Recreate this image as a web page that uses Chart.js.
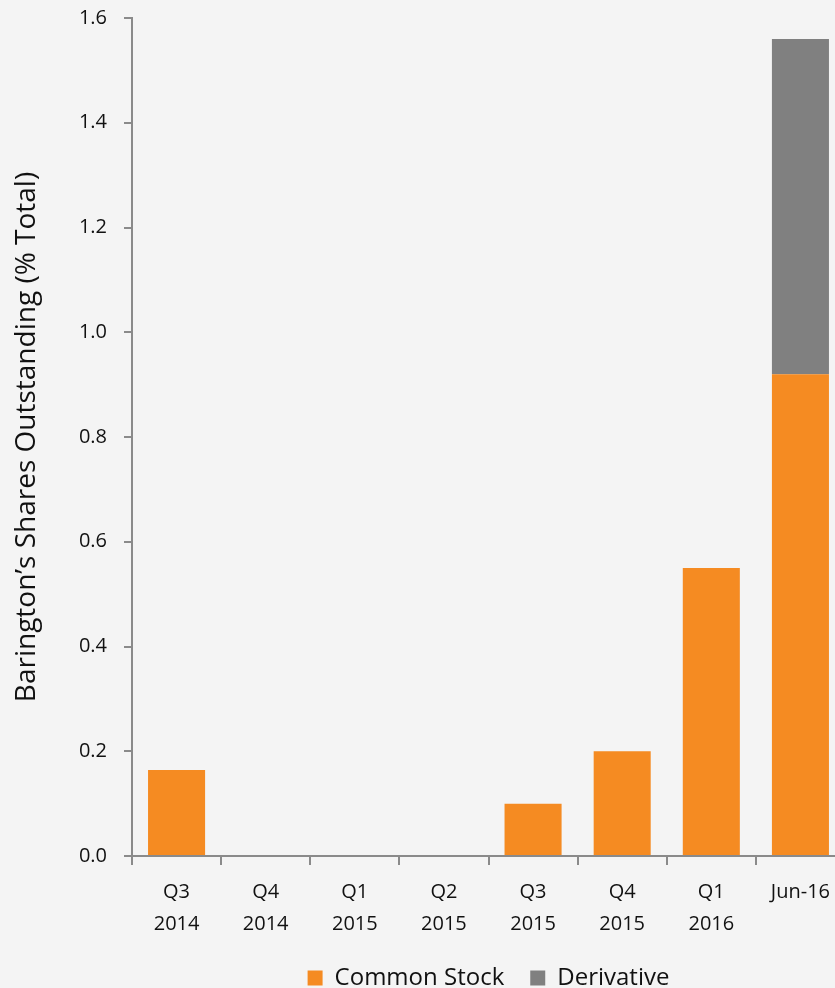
<!DOCTYPE html>
<html>
<head>
<meta charset="utf-8">
<script src="https://cdn.jsdelivr.net/npm/chart.js@4"></script>
<style>
  html, body { margin: 0; padding: 0; background: #f4f4f4; overflow: hidden; }
  #wrap { width: 845px; height: 1000px; }
</style>
</head>
<body>
<div id="wrap"><canvas id="sharesChart" width="845" height="1000"></canvas></div>
<script>
const categories = [['Q3', '2014'], ['Q4', '2014'], ['Q1', '2015'], ['Q2', '2015'],
                    ['Q3', '2015'], ['Q4', '2015'], ['Q1', '2016'], 'Jun-16'];
const commonStock = [0.164, 0, 0, 0, 0.1, 0.2, 0.55, 0.92];
const derivative = [0, 0, 0, 0, 0, 0, 0, 0.64];
const yTicks = [0, 0.2, 0.4, 0.6, 0.8, 1.0, 1.2, 1.4, 1.6];

const tickFont = { family: '"Open Sans", sans-serif', size: 20, lineHeight: 1.6 };
const axisColor = '#8a8a8a';

new Chart(document.getElementById('sharesChart'), {
    type: 'bar',
    data: {
        labels: categories,
        datasets: [
            {
                label: 'Common Stock',
                data: commonStock,
                backgroundColor: '#f58b22',
                barPercentage: 0.64,
                categoryPercentage: 1
            },
            {
                label: 'Derivative',
                data: derivative,
                backgroundColor: '#808080',
                barPercentage: 0.64,
                categoryPercentage: 1
            }
        ]
    },
    options: {
        responsive: false,
        animation: false,
        layout: { padding: { top: 18, left: 0, right: 0, bottom: 0 } },
        plugins: {
            legend: {
                position: 'bottom',
                fullSize: false,
                labels: {
                    boxWidth: 15,
                    boxHeight: 15,
                    padding: 26,
                    color: '#111',
                    font: { family: '"Open Sans", sans-serif', size: 24 }
                }
            },
            tooltip: { enabled: false }
        },
        scales: {
            x: {
                stacked: true,
                afterFit: s => { s.height = 84; },
                grid: {
                    offset: true,
                    drawOnChartArea: false,
                    tickLength: 9,
                    color: axisColor,
                    lineWidth: 2
                },
                border: { color: axisColor, width: 2 },
                ticks: {
                    color: '#111',
                    font: tickFont,
                    padding: 11,
                    maxRotation: 0,
                    autoSkip: false
                }
            },
            y: {
                stacked: true,
                min: 0,
                max: 1.6,
                afterFit: s => {
                    s.width = 132;
                    s.paddingTop = 0;
                    s.paddingBottom = 0;
                },
                afterBuildTicks: s => { s.ticks = yTicks.map(v => ({ value: v })); },
                grid: {
                    drawOnChartArea: false,
                    tickLength: 8,
                    color: axisColor,
                    lineWidth: 2
                },
                border: { color: axisColor, width: 2 },
                ticks: {
                    color: '#111',
                    font: { family: '"Open Sans", sans-serif', size: 20 },
                    padding: 17,
                    callback: v => v.toFixed(1)
                },
                title: {
                    display: true,
                    text: 'Barington\u2019s Shares Outstanding (% Total)',
                    color: '#111',
                    font: { family: '"Open Sans", sans-serif', size: 28 },
                    padding: { top: 10, bottom: 0 }
                }
            }
        }
    }
});
</script>
</body>
</html>
